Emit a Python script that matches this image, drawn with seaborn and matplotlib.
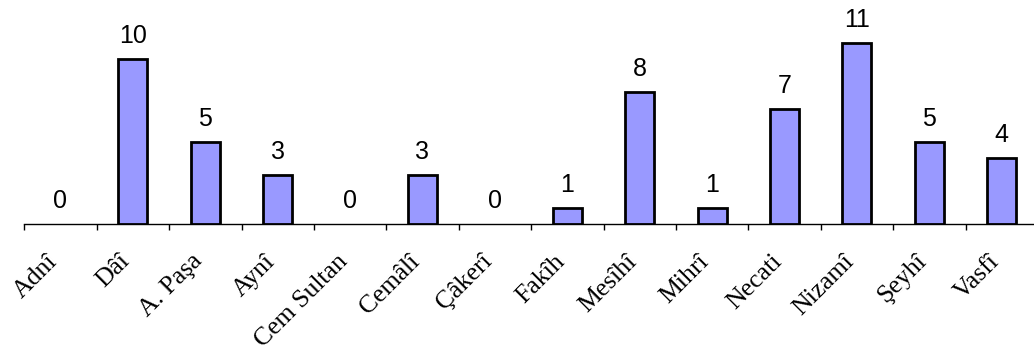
import matplotlib
matplotlib.use("Agg")
import matplotlib.pyplot as plt
import matplotlib.transforms as mtransforms
import seaborn as sns
import numpy as np
from matplotlib.ticker import FixedLocator

# Poets and counts
poets = ["Adnî", "Dâî", "A. Paşa", "Aynî", "Cem Sultan", "Cemâlî", "Çâkerî",
         "Fakîh", "Mesîhî", "Mihrî", "Necati", "Nizamî", "Şeyhî", "Vasfî"]
counts = [0, 10, 5, 3, 0, 3, 0, 1, 8, 1, 7, 11, 5, 4]

sns.set_style("white")
plt.rcParams["font.family"] = ["Liberation Sans", "DejaVu Sans"]

W, H = 1034, 350
fig = plt.figure(figsize=(W / 100, H / 100), dpi=100)

x0, base_y, step = 24.3, 224.0, 72.4
ax = fig.add_axes([x0 / W, (H - base_y) / H, (W - x0) / W, base_y / H])

sns.barplot(x=poets, y=counts, ax=ax, color="#9999FF", saturation=1,
            edgecolor="black", linewidth=2.0, width=0.4)

# empty categories draw no outline
for p, v in zip(ax.patches, counts):
    if v == 0:
        p.set_linewidth(0)

ax.set_xlim(-0.5, -0.5 + (W - x0) / step)
ax.set_ylim(0, base_y / 16.5)

for s in ["top", "left", "right"]:
    ax.spines[s].set_visible(False)
ax.spines["bottom"].set_color("black")
ax.spines["bottom"].set_linewidth(1.0)
ax.spines["bottom"].set_zorder(0.5)
ax.set_yticks([])
ax.set_xlabel("")
ax.set_ylabel("")

# Category boundary tick marks
ax.xaxis.set_minor_locator(FixedLocator(np.arange(-0.5, len(poets), 1.0)))
ax.tick_params(axis="x", which="minor", direction="out", length=4,
               width=1.0, color="black", bottom=True)
ax.tick_params(axis="x", which="major", length=0, pad=16)

ax.set_xticks(range(len(poets)))
ax.set_xticklabels(poets, rotation=45, ha="right", rotation_mode="anchor",
                   fontfamily="Liberation Serif", fontsize=18.5, color="black")

# nudge the slanted labels left and down
shift = mtransforms.ScaledTranslation(-0.14, -0.04, fig.dpi_scale_trans)
for lab in ax.get_xticklabels():
    lab.set_transform(lab.get_transform() + shift)

# Value labels above the bars
for i, v in enumerate(counts):
    ax.annotate(str(v), xy=(i, v), xytext=(0, 11.5), textcoords="offset points",
                ha="center", va="baseline", fontsize=18, color="black")

fig.savefig("out.png", dpi=100)
